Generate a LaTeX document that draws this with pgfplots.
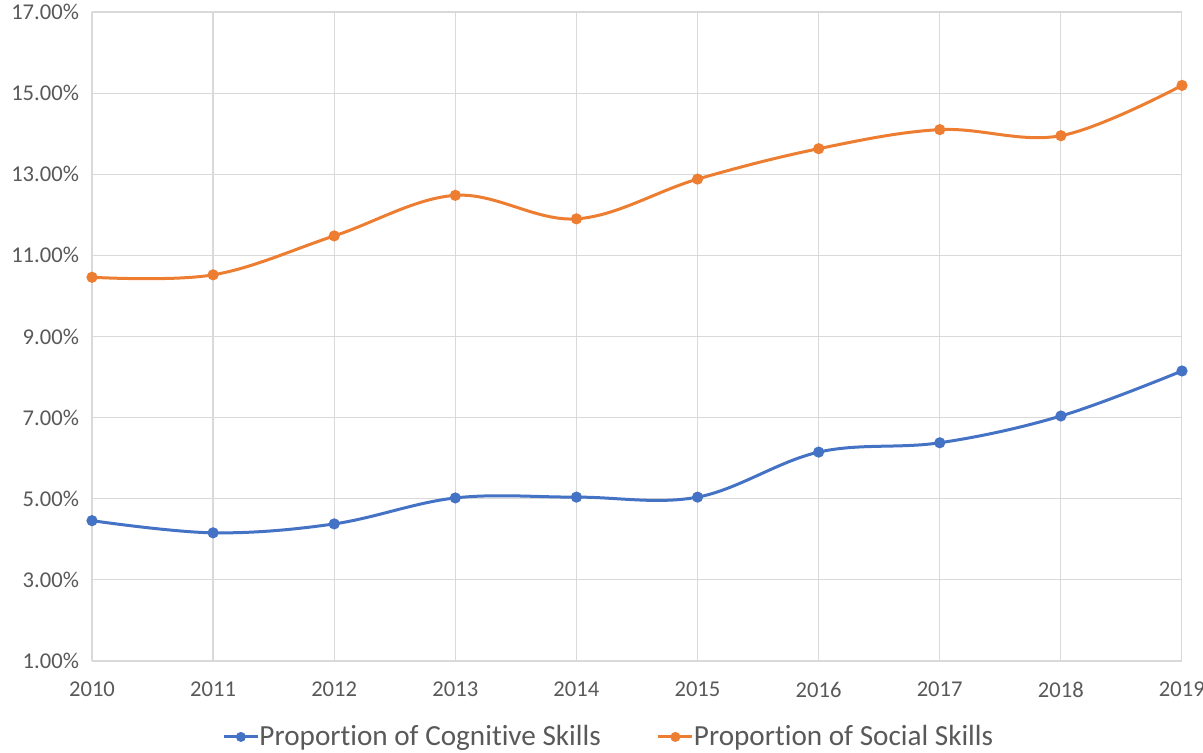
\documentclass[border=0pt]{standalone}
\usepackage{pgfplots}
\pgfplotsset{compat=1.18}
\usepackage{fontspec}
\setmainfont{Carlito}[Ligatures=NoCommon]
\definecolor{cblue}{HTML}{4472C4}
\definecolor{corange}{HTML}{ED7D31}
\definecolor{gridc}{HTML}{D9D9D9}
\definecolor{txt}{HTML}{595959}
\begin{document}
\begin{tikzpicture}
\useasboundingbox (-46pt,-46pt) rectangle (555.5pt,330.5pt);
\begin{axis}[
  at={(0,0)}, anchor=origin,
  scale only axis,
  width=545pt, height=324.5pt,
  xmin=2010, xmax=2019,
  ymin=1, ymax=17,
  xtick={2010,...,2019},
  ytick={1,3,...,17},
  grid=major,
  major grid style={gridc, line width=0.6pt},
  axis x line*=bottom,
  axis y line*=left,
  y axis line style={draw=none},
  x axis line style={gridc, line width=0.8pt},
  major tick length=0pt,
  tick style={draw=none},
  /pgf/number format/assume math mode=true,
  xticklabel style={font=\fontsize{11.3}{13}\selectfont, text=txt, /pgf/number format/1000 sep={}, yshift=-7pt},
  yticklabel style={font=\fontsize{11.3}{13}\selectfont, text=txt, xshift=-3pt},
  yticklabel={\pgfmathprintnumber[fixed,fixed zerofill,precision=2]{\tick}\%},
  legend style={at={(0.475,-0.117)}, anchor=center, draw=none, fill=none,
    legend columns=2, font=\fontsize{14.6}{17}\selectfont, text=txt,
    /tikz/every even column/.append style={column sep=26pt},
    /tikz/every odd column/.append style={column sep=-2pt}},
  legend cell align=left,
  legend image code/.code={
    \draw[#1, line width=1.5pt] (0cm,0cm) -- (0.6cm,0cm);
    \fill[#1] (0.3cm,0cm) circle (1.7pt);
  },
  clip=false,
]
\addplot[cblue, line width=1.5pt, smooth, tension=0.6, mark=*, mark size=2pt, mark options={solid}]
coordinates {(2010,4.46) (2011,4.16) (2012,4.38) (2013,5.02) (2014,5.04) (2015,5.04) (2016,6.15) (2017,6.38) (2018,7.04) (2019,8.15)};
\addlegendentry{Proportion of Cognitive Skills}
\addplot[corange, line width=1.5pt, smooth, tension=0.6, mark=*, mark size=2pt, mark options={solid}]
coordinates {(2010,10.46) (2011,10.52) (2012,11.48) (2013,12.48) (2014,11.90) (2015,12.88) (2016,13.63) (2017,14.10) (2018,13.95) (2019,15.19)};
\addlegendentry{Proportion of Social Skills}
\end{axis}
\end{tikzpicture}
\end{document}
